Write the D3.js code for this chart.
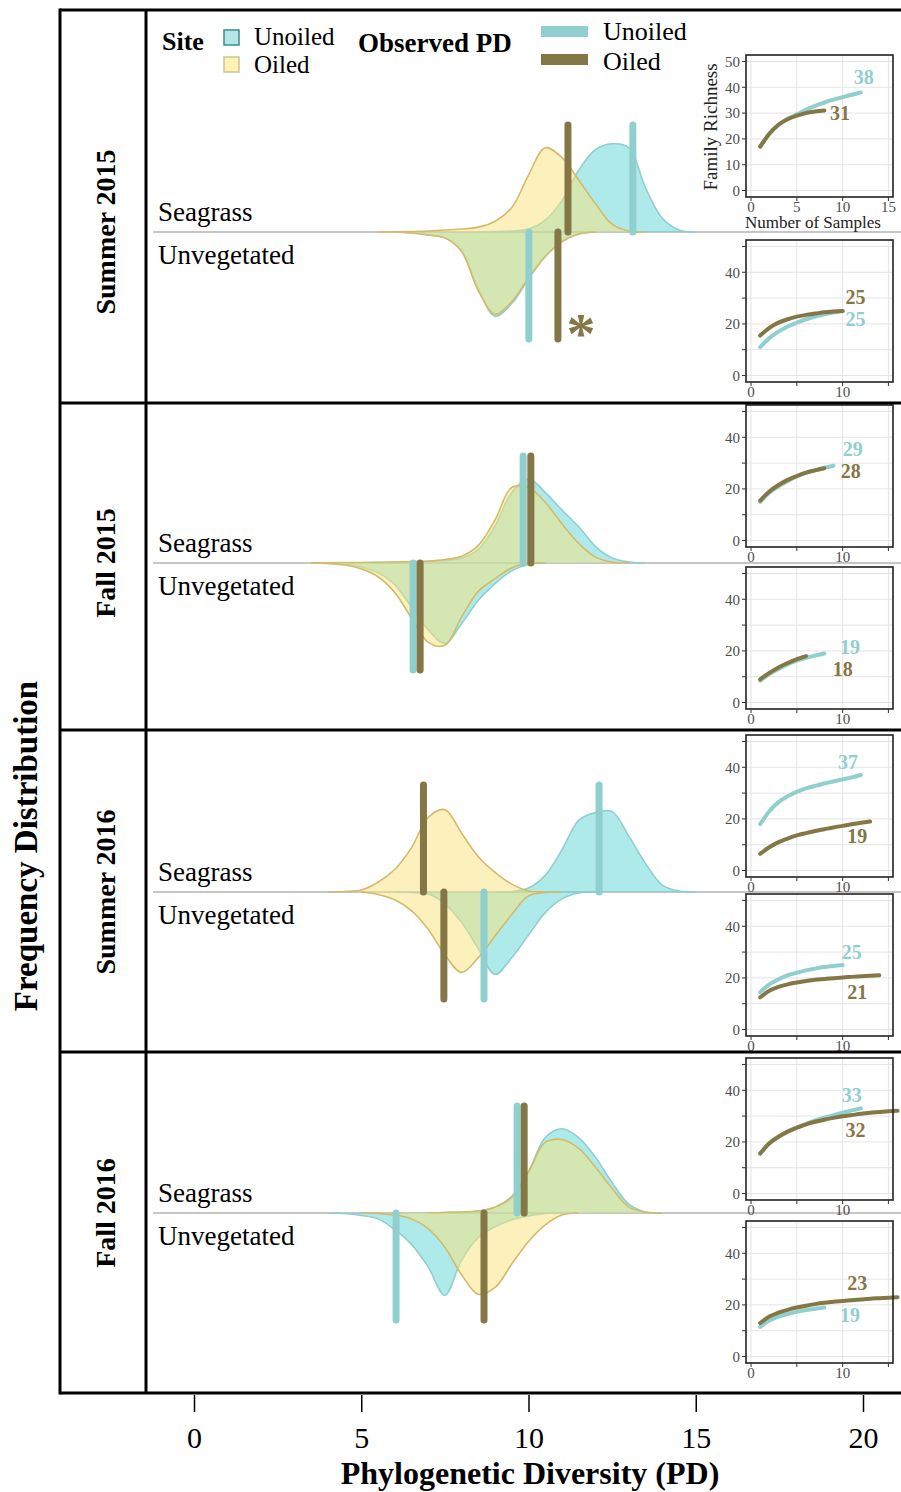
<!DOCTYPE html>
<html>
<head>
<meta charset="utf-8">
<title>Phylogenetic diversity by season</title>
<script src="https://cdn.jsdelivr.net/npm/d3@7"></script>
<style>
  body { margin: 0; background: #fff; }
  svg { display: block; font-family: "Liberation Serif", "Times New Roman", serif; }
  .frame { stroke: #000; stroke-width: 3; fill: none; }
  .base { stroke: #c6c6c6; stroke-width: 2; }
  .grid line { stroke: #e4e4e4; stroke-width: 1; }
  .tick-lbl { fill: #4d4d4d; font-size: 15px; }
</style>
</head>
<body>
<svg width="901" height="1492"></svg>
<script>
// ---- data ----
const seasons = ["Summer 2015", "Fall 2015", "Summer 2016", "Fall 2016"];
const habitats = ["Seagrass", "Unvegetated"];

// PD values where the density curves were read
const pdGrid = [3.5, 4, 4.5, 5, 5.5, 6, 6.5, 7, 7.5, 8, 8.5, 9, 9.5, 10, 10.5, 11, 11.5, 12, 12.5, 13, 13.5, 14, 14.5, 15];

// relative frequency, one array per season
const densSeagrassUnoiled = [
  [0, 0, 0, 0, 0, 0, 0, 0, 0, 0, 0, 0.5, 1, 3, 12, 32, 63, 84, 90, 86, 45, 14, 2, 0],
  [0, 0, 0.2, 0.3, 0.5, 0.7, 1, 1.5, 2.5, 5, 14, 38, 72, 86, 72, 54, 37, 17, 5, 1, 0, 0, 0, 0],
  [0, 0, 0, 0, 0, 0, 0, 0, 0, 0, 0, 0, 0.5, 4, 17, 43, 73, 81, 82, 57, 29, 7, 1, 0],
  [0, 0, 0, 0, 0, 0, 0, 0, 0.5, 1, 2, 6, 17, 42, 77, 86, 77, 57, 31, 9, 1, 0, 0, 0]
];
const densSeagrassOiled = [
  [0, 0, 0, 0, 0, 0.2, 0.5, 1, 2, 3, 5, 11, 25, 58, 86, 76, 53, 29, 8, 1, 0, 0, 0, 0],
  [0, 0.3, 0.5, 0.5, 0.7, 1, 1.5, 2, 3.5, 7, 18, 44, 77, 77, 62, 40, 20, 6, 1, 0, 0, 0, 0, 0],
  [0, 0, 0.5, 2, 10, 23, 45, 76, 84, 60, 36, 20, 8, 1, 0, 0, 0, 0, 0, 0, 0, 0, 0, 0],
  [0, 0, 0, 0, 0, 0, 0, 0, 0.5, 1, 2, 6, 16, 42, 72, 75, 66, 47, 25, 6, 1, 0, 0, 0]
];
const densUnvegUnoiled = [
  [0, 0, 0, 0, 0, 0, 1, 3, 6, 19, 58, 86, 73, 48, 25, 9, 2, 0, 0, 0, 0, 0, 0, 0],
  [0, 0, 1, 4, 10, 22, 45, 68, 82, 62, 38, 21, 8, 1.5, 0, 0, 0, 0, 0, 0, 0, 0, 0, 0],
  [0, 0, 0, 0, 0, 0, 0.5, 2, 12, 31, 58, 84, 67, 44, 21, 7, 1, 0, 0, 0, 0, 0, 0, 0],
  [0, 0, 0.5, 2.5, 6, 17, 32, 55, 84, 48, 25, 14, 7, 3, 0.5, 0, 0, 0, 0, 0, 0, 0, 0, 0]
];
const densUnvegOiled = [
  [0, 0, 0, 0, 0, 0, 1, 3, 6, 20, 60, 84, 71, 47, 25, 10, 2, 0, 0, 0, 0, 0, 0, 0],
  [0, 0.5, 2, 6, 14, 30, 56, 81, 84, 55, 29, 16, 5, 0.5, 0, 0, 0, 0, 0, 0, 0, 0, 0, 0],
  [0, 0, 0, 0, 2.5, 8, 19, 38, 64, 82, 67, 45, 23, 4, 0.5, 0, 0, 0, 0, 0, 0, 0, 0, 0],
  [0, 0, 0, 0, 0.5, 2, 6, 16, 35, 63, 83, 76, 52, 29, 12, 2, 0, 0, 0, 0, 0, 0, 0, 0]
];

// observed PD per season
const obsSeagrassUnoiled = [13.12, 9.84, 12.11, 9.66];
const obsSeagrassOiled = [11.18, 10.07, 6.86, 9.87];
const obsUnvegUnoiled = [10.01, 6.55, 8.67, 6.04];
const obsUnvegOiled = [10.88, 6.76, 7.47, 8.67];

// rarefaction curves: family richness for 1..n samples
const rareSeagrassUnoiled = [
  [17, 22, 25.5, 27.8, 29.5, 31.3, 32.8, 34.1, 35.2, 36.2, 37.1, 38],
  [15, 18.5, 21, 23, 24.8, 26.2, 27.3, 28.2, 29],
  [18, 23, 26.5, 28.8, 30.5, 31.8, 32.8, 33.7, 34.5, 35.3, 36.1, 37],
  [15.5, 19.5, 22, 24, 25.5, 27, 28.3, 29.4, 30.4, 31.3, 32.2, 33]
];
const rareSeagrassOiled = [
  [17, 22, 25.5, 27.6, 29, 30, 30.6, 31],
  [15.5, 19, 21.5, 23.5, 25, 26.3, 27.2, 28],
  [6.5, 9, 11, 12.4, 13.6, 14.5, 15.3, 16, 16.7, 17.3, 17.9, 18.5, 19],
  [15.5, 19.5, 22, 24, 25.5, 26.8, 27.8, 28.6, 29.3, 29.9, 30.4, 30.9, 31.3, 31.6, 31.9, 32.1]
];
const rareUnvegUnoiled = [
  [11, 14.5, 17, 19, 20.5, 21.8, 22.8, 23.7, 24.4, 25],
  [8.5, 11, 13, 14.8, 16.2, 17.3, 18.2, 19],
  [14.5, 17.5, 19.5, 21, 22, 22.9, 23.6, 24.2, 24.6, 25],
  [11.5, 14, 15.5, 16.5, 17.3, 18, 18.5, 19]
];
const rareUnvegOiled = [
  [15.5, 18.5, 20.5, 21.8, 22.8, 23.5, 24, 24.5, 24.8, 25],
  [9, 11.5, 13.6, 15.3, 16.8, 18],
  [12.5, 15, 16.5, 17.5, 18.2, 18.8, 19.3, 19.6, 19.9, 20.2, 20.4, 20.6, 20.8, 21],
  [13, 15.5, 17, 18.1, 19, 19.7, 20.3, 20.8, 21.2, 21.5, 21.8, 22.1, 22.4, 22.6, 22.8, 23]
];

const pdTicks = [0, 5, 10, 15, 20];

// ---- layout ----
const cyan = "#8fcfce", cyanFill = "#5fd5d5", gold = "#857745", goldLine = "#d3bb6c", yellowFill = "#f9e27a";
const rowBase = [232, 563, 892, 1213];
const rowLines = [403, 730, 1052];
const barLen = 107;
const insetTops = [55, 240, 405, 567, 735, 894, 1058, 1221];
const insetH = 142;
// where the final richness numbers sit, in [samples, richness]
const richLabelAt = [
  { unoiled: [12.3, 44], oiled: [9.7, 30.2] },
  { unoiled: [11.4, 22], oiled: [11.4, 30.5] },
  { unoiled: [11.1, 35.5], oiled: [10.9, 27] },
  { unoiled: [10.8, 21.6], oiled: [10.0, 13] },
  { unoiled: [10.6, 42.2], oiled: [11.6, 13.4] },
  { unoiled: [11.0, 30.2], oiled: [11.6, 14.7] },
  { unoiled: [11.0, 38.2], oiled: [11.4, 24.6] },
  { unoiled: [10.8, 16], oiled: [11.6, 28.5] }
];

const svg = d3.select("svg");
const x = d3.scaleLinear().domain([0, 20]).range([194, 863]);
const h = d3.scaleLinear().domain([0, 100]).range([0, 98]);
const smooth = d3.curveCatmullRom.alpha(0.5);

// baselines between habitats
svg.append("g").selectAll("line").data(rowBase).join("line")
  .attr("class", "base")
  .attr("x1", 153).attr("x2", 901)
  .attr("y1", d => d).attr("y2", d => d);

function support(vals) {
  const pts = pdGrid.map((p, i) => [p, vals[i]]);
  let a = 0, b = pts.length - 1;
  while (a < b && pts[a + 1][1] === 0) a++;
  while (b > a && pts[b - 1][1] === 0) b--;
  return pts.slice(a, b + 1);
}

const layers = [
  { vals: densSeagrassUnoiled, dir: 1, fill: cyanFill, line: cyan },
  { vals: densUnvegUnoiled, dir: -1, fill: cyanFill, line: cyan },
  { vals: densSeagrassOiled, dir: 1, fill: yellowFill, line: goldLine },
  { vals: densUnvegOiled, dir: -1, fill: yellowFill, line: goldLine }
];

const dens = svg.append("g");
layers.forEach(L => {
  seasons.forEach((s, i) => {
    const base = rowBase[i];
    const pts = support(L.vals[i]);
    const yv = d => base - L.dir * h(d[1]);
    dens.append("path").datum(pts)
      .attr("d", d3.area().curve(smooth).x(d => x(d[0])).y0(base).y1(yv))
      .attr("fill", L.fill).attr("fill-opacity", 0.5);
    dens.append("path").datum(pts)
      .attr("d", d3.line().curve(smooth).x(d => x(d[0])).y(yv))
      .attr("fill", "none").attr("stroke", L.line).attr("stroke-width", 1.6);
  });
});

// observed PD bars
const bars = [
  { vals: obsSeagrassUnoiled, dir: 1, color: cyan },
  { vals: obsSeagrassOiled, dir: 1, color: gold },
  { vals: obsUnvegUnoiled, dir: -1, color: cyan },
  { vals: obsUnvegOiled, dir: -1, color: gold }
];
const barG = svg.append("g");
bars.forEach(B => {
  barG.selectAll(null).data(B.vals).join("line")
    .attr("x1", d => x(d)).attr("x2", d => x(d))
    .attr("y1", (d, i) => rowBase[i])
    .attr("y2", (d, i) => rowBase[i] - B.dir * barLen)
    .attr("stroke", B.color).attr("stroke-width", 7).attr("stroke-linecap", "round");
});

svg.append("text").attr("x", 581).attr("y", 353)
  .attr("text-anchor", "middle").attr("font-weight", "bold").attr("font-size", 58)
  .attr("fill", gold).text("*");

// habitat labels
const habG = svg.append("g").attr("font-size", 27);
rowBase.forEach(b => {
  habG.append("text").attr("x", 158).attr("y", b - 11).text(habitats[0]);
  habG.append("text").attr("x", 158).attr("y", b + 32).text(habitats[1]);
});

// ---- rarefaction insets ----
const nx = d3.scaleLinear().domain([-0.55, 15.5]).range([746, 893]);
const insets = [];
seasons.forEach((s, i) => {
  insets.push({ unoiled: rareSeagrassUnoiled[i], oiled: rareSeagrassOiled[i] });
  insets.push({ unoiled: rareUnvegUnoiled[i], oiled: rareUnvegOiled[i] });
});

insets.forEach((ins, k) => {
  const top = insetTops[k];
  const ny = d3.scaleLinear().domain([-2.5, 52.5]).range([top + insetH, top]);
  const g = svg.append("g");
  g.append("rect").attr("x", 746).attr("y", top).attr("width", 147).attr("height", insetH).attr("fill", "#fff");
  const grid = g.append("g").attr("class", "grid");
  grid.selectAll(null).data([0, 5, 10, 15]).join("line")
    .attr("x1", d => nx(d)).attr("x2", d => nx(d)).attr("y1", top).attr("y2", top + insetH);
  grid.selectAll(null).data([0, 10, 20, 30, 40, 50]).join("line")
    .attr("y1", d => ny(d)).attr("y2", d => ny(d)).attr("x1", 746).attr("x2", 893);

  const line = d3.line().curve(d3.curveMonotoneX).x((d, j) => nx(j + 1)).y(d => ny(d));
  [["unoiled", cyan], ["oiled", gold]].forEach(([key, col]) => {
    g.append("path").datum(ins[key]).attr("d", line)
      .attr("fill", "none").attr("stroke", col).attr("stroke-width", 4).attr("stroke-linecap", "round");
    const at = richLabelAt[k][key];
    g.append("text").attr("x", nx(at[0])).attr("y", ny(at[1])).attr("dy", "0.35em")
      .attr("text-anchor", "middle").attr("font-weight", "bold").attr("font-size", 20)
      .attr("fill", col).text(Math.round(ins[key][ins[key].length - 1]));
  });

  g.append("rect").attr("x", 746).attr("y", top).attr("width", 147).attr("height", insetH)
    .attr("fill", "none").attr("stroke", "#222").attr("stroke-width", 1.6);

  const yt = k === 0 ? [0, 10, 20, 30, 40, 50] : [0, 20, 40];
  const xt = k === 0 ? [0, 5, 10, 15] : [0, 10];
  g.selectAll(null).data([0, 10, 20, 30, 40, 50]).join("line")
    .attr("x1", 742).attr("x2", 746).attr("y1", d => ny(d)).attr("y2", d => ny(d)).attr("stroke", "#333");
  g.selectAll(null).data([0, 5, 10, 15]).join("line")
    .attr("y1", top + insetH).attr("y2", top + insetH + 4).attr("x1", d => nx(d)).attr("x2", d => nx(d)).attr("stroke", "#333");
  g.selectAll(null).data(yt).join("text").attr("class", "tick-lbl")
    .attr("x", 740).attr("y", d => ny(d)).attr("dy", "0.35em").attr("text-anchor", "end").text(d => d);
  g.selectAll(null).data(xt).join("text").attr("class", "tick-lbl")
    .attr("x", d => nx(d)).attr("y", top + insetH + 15).attr("text-anchor", "middle").text(d => d);

  if (k === 0) {
    g.append("text").attr("transform", `translate(717,${top + 72}) rotate(-90)`)
      .attr("text-anchor", "middle").attr("font-size", 19).attr("fill", "#222").text("Family Richness");
    g.append("text").attr("x", 813).attr("y", top + insetH + 31)
      .attr("text-anchor", "middle").attr("font-size", 17).attr("fill", "#222").text("Number of Samples");
  }
});

// ---- frame ----
const fr = svg.append("g").attr("class", "frame");
fr.append("line").attr("x1", 60).attr("x2", 901).attr("y1", 10).attr("y2", 10);
fr.append("line").attr("x1", 60).attr("x2", 901).attr("y1", 1393).attr("y2", 1393);
fr.append("line").attr("x1", 60).attr("x2", 60).attr("y1", 8.5).attr("y2", 1394.5);
fr.append("line").attr("x1", 146).attr("x2", 146).attr("y1", 10).attr("y2", 1393);
fr.selectAll(null).data(rowLines).join("line")
  .attr("x1", 60).attr("x2", 901).attr("y1", d => d).attr("y2", d => d);

// season labels
svg.append("g").selectAll("text").data(seasons).join("text")
  .attr("transform", (d, i) => `translate(105,${rowBase[i]}) rotate(-90)`)
  .attr("text-anchor", "middle").attr("dy", "0.35em")
  .attr("font-weight", "bold").attr("font-size", 28).text(d => d);

svg.append("text").attr("transform", "translate(25,846) rotate(-90)")
  .attr("text-anchor", "middle").attr("dy", "0.35em")
  .attr("font-weight", "bold").attr("font-size", 33).text("Frequency Distribution");

// ---- x axis ----
const ax = svg.append("g").attr("transform", "translate(0,1395)")
  .call(d3.axisBottom(x).tickValues(pdTicks).tickSize(17).tickFormat(d3.format("d")));
ax.select(".domain").remove();
ax.selectAll(".tick line").attr("stroke", "#000").attr("stroke-width", 1.5);
ax.selectAll(".tick text").attr("y", 53).attr("dy", 0)
  .attr("font-family", "Liberation Serif, serif").attr("font-size", 30).attr("fill", "#000");

svg.append("text").attr("x", 530).attr("y", 1484).attr("text-anchor", "middle")
  .attr("font-weight", "bold").attr("font-size", 32).text("Phylogenetic Diversity (PD)");

// ---- legend ----
const lg = svg.append("g").attr("font-size", 25);
lg.append("text").attr("x", 162).attr("y", 50).attr("font-weight", "bold").attr("font-size", 26).text("Site");
lg.append("rect").attr("x", 224).attr("y", 30).attr("width", 15).attr("height", 15)
  .attr("fill", "#b3e6e5").attr("stroke", "#3f8c8c").attr("stroke-width", 1.5);
lg.append("rect").attr("x", 224).attr("y", 57).attr("width", 15).attr("height", 15)
  .attr("fill", "#fdf1b4").attr("stroke", "#c9c39c").attr("stroke-width", 1.5);
lg.append("text").attr("x", 254).attr("y", 45).text("Unoiled");
lg.append("text").attr("x", 254).attr("y", 73).text("Oiled");
lg.append("text").attr("x", 358).attr("y", 52).attr("font-weight", "bold").attr("font-size", 27).text("Observed PD");
lg.append("rect").attr("x", 541).attr("y", 26).attr("width", 47).attr("height", 11).attr("fill", cyan);
lg.append("rect").attr("x", 541).attr("y", 54).attr("width", 47).attr("height", 11).attr("fill", gold);
lg.append("text").attr("x", 603).attr("y", 40).attr("font-size", 26).text("Unoiled");
lg.append("text").attr("x", 603).attr("y", 70).attr("font-size", 26).text("Oiled");
</script>
</body>
</html>
